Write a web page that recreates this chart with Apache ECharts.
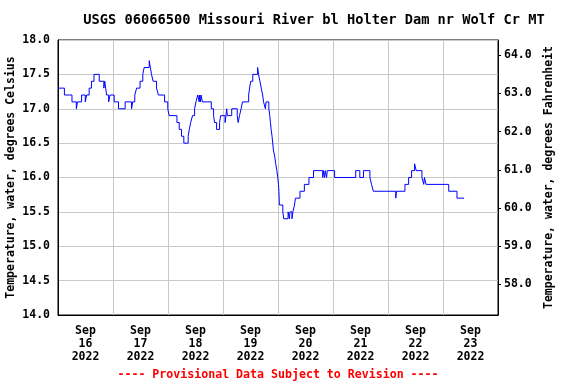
<!DOCTYPE html>
<html>
<head>
<meta charset="utf-8">
<script src="https://cdn.jsdelivr.net/npm/echarts@6/dist/echarts.min.js"></script>
<style>html,body{margin:0;padding:0;background:#fff;}#c{width:576px;height:384px;}</style>
</head>
<body>
<div id="c"></div>
<script>
// Hours since Sep 16 2022 00:00 at which the reading changes
const hours = [0, 2.8, 6.1, 8.0, 8.5, 10.3, 11.9, 12.5, 13.6, 14.6, 15.7, 18.0, 20.0, 20.4, 20.8, 21.2, 22.1, 22.7, 24.5, 26.4, 29.3, 32.1, 32.6, 33.5, 34.3, 35.8, 37.0, 37.6, 39.8, 40.3, 40.8, 41.5, 43.0, 43.8, 46.5, 47.9, 48.5, 51.9, 52.9, 53.9, 54.9, 56.8, 57.3, 57.9, 58.7, 59.6, 60.2, 61.0, 61.6, 61.8, 62.2, 62.4, 63.0,
  66.9, 67.9, 68.3, 69.2, 70.5, 71.0, 72.9, 73.3, 73.6, 73.9, 75.8, 78.2, 78.6, 79.2, 79.9, 80.5, 83.2, 83.6, 84.1, 85.0, 87.1, 87.5, 88.1, 88.7, 89.3, 89.7, 90.5, 90.8, 92.0, 92.4, 92.7, 93.0, 93.4, 93.7, 94.0, 94.6, 95.0, 95.5, 95.9, 96.2, 96.4, 96.5, 96.6, 98.1, 98.5,
  100.4, 101.0, 101.2, 102.1, 102.5, 103.2, 103.6, 105.6, 107.5, 109.5, 111.5, 115.5, 115.8, 116.3, 116.6, 117.2, 117.5, 120.7, 129.9, 131.7, 133.3, 136.1, 136.8, 137.6, 147.4, 147.7, 151.4, 153.0, 154.3, 155.6, 156.3, 158.8, 159.6, 159.9, 160.6, 170.5, 174.1, 177.2];
// Water temperature, degrees Celsius
const tempC = [17.3, 17.2, 17.1, 17.0, 17.1, 17.2, 17.1, 17.2, 17.3, 17.4, 17.5, 17.4, 17.3, 17.4, 17.3, 17.2, 17.1, 17.2, 17.1, 17.0, 17.1, 17.0, 17.1, 17.2, 17.3, 17.4, 17.5, 17.6, 17.7, 17.6, 17.5, 17.4, 17.3, 17.2, 17.1, 17.0, 16.9, 16.8, 16.7, 16.6, 16.5, 16.6, 16.7, 16.8, 16.9, 17.0, 17.1, 17.2, 17.1, 17.2, 17.1, 17.2, 17.1,
  17.0, 16.9, 16.8, 16.7, 16.8, 16.9, 16.8, 16.9, 17.0, 16.9, 17.0, 16.9, 16.8, 16.9, 17.0, 17.1, 17.2, 17.3, 17.4, 17.5, 17.6, 17.5, 17.4, 17.3, 17.2, 17.1, 17.0, 17.1, 17.0, 16.9, 16.8, 16.7, 16.6, 16.5, 16.4, 16.3, 16.2, 16.1, 16.0, 15.9, 15.8, 15.7, 15.6, 15.5, 15.4,
  15.5, 15.4, 15.5, 15.4, 15.5, 15.6, 15.7, 15.8, 15.9, 16.0, 16.1, 16.0, 16.1, 16.0, 16.1, 16.0, 16.1, 16.0, 16.1, 16.0, 16.1, 16.0, 15.9, 15.8, 15.7, 15.8, 15.9, 16.0, 16.1, 16.2, 16.1, 16.0, 15.9, 16.0, 15.9, 15.8, 15.7, 15.7];
// X labels (placed at noon of each day)
const dayLabels = ['Sep\n16\n2022', 'Sep\n17\n2022', 'Sep\n18\n2022', 'Sep\n19\n2022', 'Sep\n20\n2022', 'Sep\n21\n2022', 'Sep\n22\n2022', 'Sep\n23\n2022'];
const dayLabelHours = [12, 36, 60, 84, 108, 132, 156, 180];
const fahrenheitTicks = [58, 59, 60, 61, 62, 63, 64];

const FONT = '"DejaVu Sans Mono", monospace';
const chart = echarts.init(document.getElementById('c'), null, {renderer: 'canvas'});
const data = hours.map((h, i) => [h, tempC[i]]);

chart.setOption({
  animation: false,
  backgroundColor: '#fff',
  grid: {left: 58, right: 78, top: 40, bottom: 69, show: true, borderColor: '#000', borderWidth: 1, backgroundColor: '#fff', containLabel: false, outerBoundsMode: 'none'},
  graphic: [
    {type: 'text', x: 314, y: 20, style: {text: 'USGS 06066500 Missouri River bl Holter Dam nr Wolf Cr MT', font: 'bold 13.7px ' + FONT, fill: '#000', textAlign: 'center', textVerticalAlign: 'middle'}},
    {type: 'text', x: 278, y: 375, style: {text: '---- Provisional Data Subject to Revision ----', font: 'bold 11.6px ' + FONT, fill: '#ff0000', textAlign: 'center', textVerticalAlign: 'middle'}}
  ],
  xAxis: {
    type: 'value', min: 0, max: 192, interval: 24,
    axisLine: {show: true, lineStyle: {color: '#000', width: 1}},
    axisTick: {show: false},
    splitLine: {show: true, lineStyle: {color: '#c8c8c8', width: 1}},
    axisLabel: {
      customValues: dayLabelHours,
      formatter: v => dayLabels[dayLabelHours.indexOf(v)] || '',
      fontFamily: FONT, fontWeight: 'bold', fontSize: 11.5, color: '#000', lineHeight: 12.7, margin: 10
    }
  },
  yAxis: [
    {
      type: 'value', min: 14, max: 18, interval: 0.5, position: 'left',
      name: 'Temperature, water, degrees Celsius', nameLocation: 'middle', nameGap: 41, nameRotate: 90, nameMoveOverlap: false,
      nameTextStyle: {fontFamily: FONT, fontWeight: 'bold', fontSize: 11.5, color: '#000'},
      axisLine: {show: true, lineStyle: {color: '#000'}},
      axisTick: {show: false},
      splitLine: {show: true, lineStyle: {color: '#c8c8c8', width: 1}},
      axisLabel: {formatter: v => v.toFixed(1), fontFamily: FONT, fontWeight: 'bold', fontSize: 11.5, color: '#000', margin: 8}
    },
    {
      type: 'value', min: 57.2, max: 64.4, position: 'right',
      name: 'Temperature, water, degrees Fahrenheit', nameLocation: 'middle', nameGap: 45, nameRotate: 90, nameMoveOverlap: false,
      nameTextStyle: {fontFamily: FONT, fontWeight: 'bold', fontSize: 11.5, color: '#000'},
      axisLine: {show: true, lineStyle: {color: '#000'}},
      axisTick: {show: true, inside: false, length: 3, customValues: fahrenheitTicks, lineStyle: {color: '#000'}},
      splitLine: {show: false},
      axisLabel: {customValues: fahrenheitTicks, formatter: v => v.toFixed(1), fontFamily: FONT, fontWeight: 'bold', fontSize: 11.5, color: '#000', margin: 6}
    }
  ],
  series: [{
    type: 'line', step: 'end', data: data, yAxisIndex: 0,
    showSymbol: false, symbol: 'none',
    lineStyle: {color: '#0000ff', width: 1},
    z: 5
  }]
});
</script>
</body>
</html>
